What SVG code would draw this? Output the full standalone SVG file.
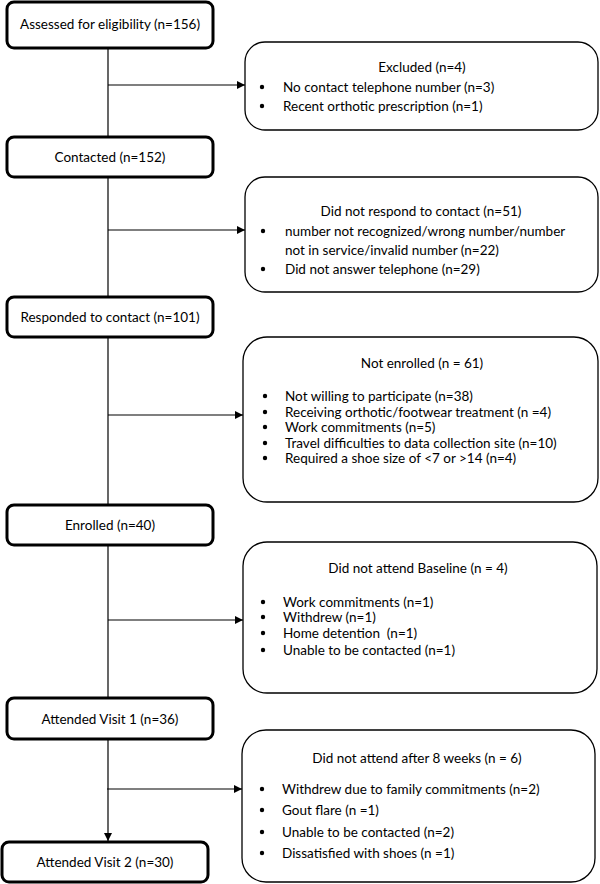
<svg xmlns="http://www.w3.org/2000/svg" width="600" height="884" viewBox="0 0 600 884">
<style>
text{font-family:Lato,"Liberation Sans",sans-serif;font-size:13.5px;fill:#000}
.c{text-anchor:middle}
.main{fill:#fff;stroke:#000;stroke-width:3}
.side{fill:#fff;stroke:#000;stroke-width:1.3}
.ln{stroke:#000;stroke-width:1.2;fill:none}
.b{fill:#000}
</style>
<defs>
<marker id="ah" viewBox="0 0 10 10" refX="10" refY="5" markerWidth="8" markerHeight="8" markerUnits="userSpaceOnUse" orient="auto">
<path d="M0,0 L10,5 L0,10 z" fill="#000"/>
</marker>
</defs>
<rect width="600" height="884" fill="#fff"/>
<g id="connectors">
<line class="ln" x1="108" y1="48" x2="108" y2="137"/>
<line class="ln" x1="108" y1="177" x2="108" y2="297"/>
<line class="ln" x1="108" y1="337" x2="108" y2="505"/>
<line class="ln" x1="108" y1="545" x2="108" y2="698"/>
<line class="ln" x1="108" y1="739" x2="108" y2="841" marker-end="url(#ah)"/>
<line class="ln" x1="108" y1="85" x2="245" y2="85" marker-end="url(#ah)"/>
<line class="ln" x1="108" y1="230" x2="245" y2="230" marker-end="url(#ah)"/>
<line class="ln" x1="108" y1="415" x2="243" y2="415" marker-end="url(#ah)"/>
<line class="ln" x1="108" y1="620" x2="243" y2="620" marker-end="url(#ah)"/>
<line class="ln" x1="107" y1="789" x2="242" y2="789" marker-end="url(#ah)"/>
</g>
<g id="assessed">
<rect class="main" x="7" y="2" width="206" height="46" rx="7"/>
<text class="c" x="110" y="29">Assessed for eligibility (n=156)</text>
</g>
<g id="contacted">
<rect class="main" x="7" y="137" width="206" height="40" rx="7"/>
<text class="c" x="110" y="162">Contacted (n=152)</text>
</g>
<g id="responded">
<rect class="main" x="7" y="297" width="206" height="40" rx="7"/>
<text class="c" x="110" y="322">Responded to contact (n=101)</text>
</g>
<g id="enrolled">
<rect class="main" x="7" y="505" width="206" height="40" rx="7"/>
<text class="c" x="110" y="530">Enrolled (n=40)</text>
</g>
<g id="visit1">
<rect class="main" x="7" y="698" width="206" height="41" rx="7"/>
<text class="c" x="110" y="724">Attended Visit 1 (n=36)</text>
</g>
<g id="visit2">
<rect class="main" x="2" y="842" width="206" height="40" rx="7"/>
<text class="c" x="105" y="867">Attended Visit 2 (n=30)</text>
</g>
<g id="excluded">
<rect class="side" x="245" y="42" width="353" height="88" rx="20"/>
<text class="c" x="422" y="72">Excluded (n=4)</text>
<circle class="b" cx="262" cy="87" r="2.2"/>
<text x="283" y="92">No contact telephone number (n=3)</text>
<circle class="b" cx="262" cy="106" r="2.2"/>
<text x="283" y="111">Recent orthotic prescription (n=1)</text>
</g>
<g id="norespond">
<rect class="side" x="245" y="177" width="353" height="115" rx="20"/>
<text class="c" x="421" y="216">Did not respond to contact (n=51)</text>
<circle class="b" cx="263" cy="231" r="2.2"/>
<text x="285" y="236">number not recognized/wrong number/number</text>
<text x="285" y="255">not in service/invalid number (n=22)</text>
<circle class="b" cx="263" cy="269" r="2.2"/>
<text x="285" y="274">Did not answer telephone (n=29)</text>
</g>
<g id="notenrolled">
<rect class="side" x="243" y="337" width="355" height="165" rx="24"/>
<text class="c" x="422" y="368">Not enrolled (n = 61)</text>
<circle class="b" cx="265" cy="396" r="2.2"/>
<text x="285" y="401">Not willing to participate (n=38)</text>
<circle class="b" cx="265" cy="412" r="2.2"/>
<text x="285" y="417">Receiving orthotic/footwear treatment (n =4)</text>
<circle class="b" cx="265" cy="427" r="2.2"/>
<text x="285" y="432">Work commitments (n=5)</text>
<circle class="b" cx="265" cy="443" r="2.2"/>
<text x="285" y="448">Travel difficulties to data collection site (n=10)</text>
<circle class="b" cx="265" cy="458" r="2.2"/>
<text x="285" y="463">Required a shoe size of &lt;7 or &gt;14 (n=4)</text>
</g>
<g id="baseline">
<rect class="side" x="243" y="542" width="354" height="151" rx="24"/>
<text class="c" x="418" y="573">Did not attend Baseline (n = 4)</text>
<circle class="b" cx="263" cy="602" r="2.2"/>
<text x="283" y="607">Work commitments (n=1)</text>
<circle class="b" cx="263" cy="617" r="2.2"/>
<text x="283" y="622">Withdrew (n=1)</text>
<circle class="b" cx="263" cy="633" r="2.2"/>
<text x="283" y="638" xml:space="preserve">Home detention  (n=1)</text>
<circle class="b" cx="263" cy="650" r="2.2"/>
<text x="283" y="655">Unable to be contacted (n=1)</text>
</g>
<g id="weeks8">
<rect class="side" x="242" y="730" width="353" height="152" rx="24"/>
<text class="c" x="417" y="763">Did not attend after 8 weeks (n = 6)</text>
<circle class="b" cx="262" cy="789" r="2.2"/>
<text x="282" y="794">Withdrew due to family commitments (n=2)</text>
<circle class="b" cx="262" cy="810" r="2.2"/>
<text x="282" y="815">Gout flare (n =1)</text>
<circle class="b" cx="262" cy="832" r="2.2"/>
<text x="282" y="837">Unable to be contacted (n=2)</text>
<circle class="b" cx="262" cy="853" r="2.2"/>
<text x="282" y="858">Dissatisfied with shoes (n =1)</text>
</g>
</svg>
